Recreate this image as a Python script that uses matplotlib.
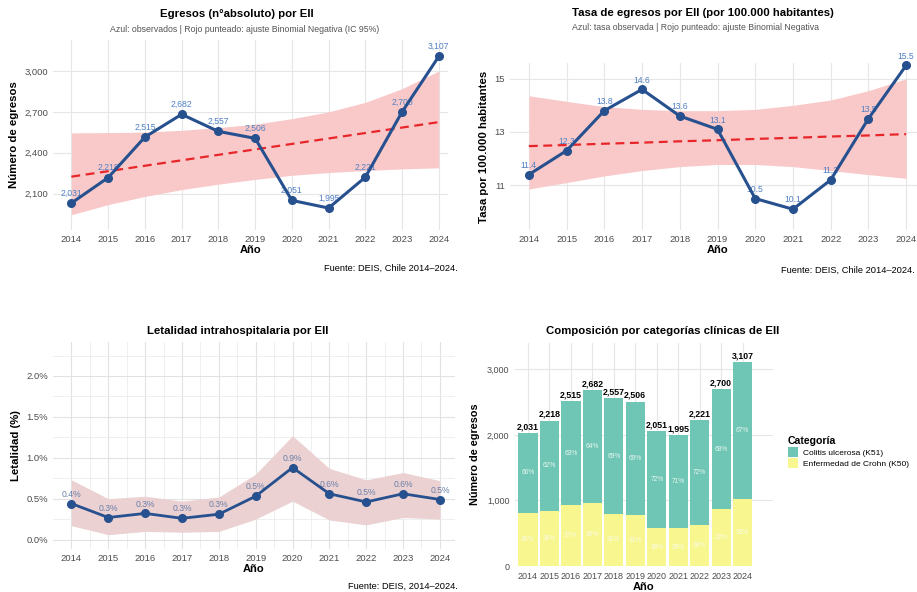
import matplotlib
matplotlib.use("Agg")
import matplotlib.pyplot as plt
from matplotlib.patches import Patch
from matplotlib.ticker import FixedLocator, FuncFormatter

plt.rcParams['font.family'] = ['Liberation Sans', 'DejaVu Sans']

# --- datos ---
years = [2014, 2015, 2016, 2017, 2018, 2019, 2020, 2021, 2022, 2023, 2024]
egresos = [2031, 2218, 2515, 2682, 2557, 2506, 2051, 1995, 2221, 2700, 3107]
egresos_fit = [2225, 2265, 2305, 2345, 2385, 2425, 2465, 2505, 2545, 2585, 2625]
egresos_lo = [1946, 2020, 2080, 2130, 2170, 2205, 2235, 2255, 2270, 2282, 2290]
egresos_hi = [2546, 2548, 2552, 2565, 2585, 2610, 2650, 2700, 2770, 2870, 3000]

tasa = [11.4, 12.3, 13.8, 14.6, 13.6, 13.1, 10.5, 10.1, 11.2, 13.5, 15.5]
tasa_fit = [12.47, 12.51, 12.56, 12.60, 12.65, 12.69, 12.74, 12.78, 12.83, 12.87, 12.92]
tasa_lo = [10.86, 11.10, 11.35, 11.55, 11.70, 11.78, 11.78, 11.70, 11.55, 11.40, 11.26]
tasa_hi = [14.36, 14.15, 13.95, 13.85, 13.80, 13.80, 13.85, 14.00, 14.20, 14.55, 15.00]

letalidad = [0.44, 0.27, 0.32, 0.26, 0.31, 0.53, 0.88, 0.56, 0.46, 0.56, 0.49]
letal_lo = [0.17, 0.06, 0.10, 0.09, 0.10, 0.25, 0.47, 0.24, 0.18, 0.27, 0.25]
letal_hi = [0.73, 0.50, 0.53, 0.47, 0.52, 0.80, 1.27, 0.87, 0.73, 0.82, 0.72]

crohn = [812, 843, 930, 965, 793, 777, 574, 579, 622, 864, 1025]
colitis = [1219, 1375, 1585, 1717, 1764, 1729, 1477, 1416, 1599, 1836, 2082]
categorias = ['Colitis ulcerosa (K51)', 'Enfermedad de Crohn (K50)']

W, H = 917, 592
LINE = '#27508f'
LABEL_BLUE = '#4f7fc4'
GRID = '#e6e6e6'
TEAL = '#6fc6b4'
YELLOW = '#f8f68e'


def fx(px):
    return px / W


def fy(py):
    return 1 - py / H


def panel(left, top, right, bottom):
    ax = fig.add_axes([fx(left), fy(bottom), fx(right) - fx(left), (bottom - top) / H])
    for s in ax.spines.values():
        s.set_visible(False)
    ax.tick_params(length=0, labelsize=6.8, labelcolor='#4d4d4d', pad=3.5)
    ax.set_axisbelow(True)
    return ax


fig = plt.figure(figsize=(W / 100, H / 100), dpi=100)

# === Panel 1: egresos absolutos ===
ax1 = panel(53, 40, 448, 230)
ax1.fill_between(years, egresos_lo, egresos_hi, color='#f9c9c9', lw=0, zorder=1)
ax1.plot(years, egresos_fit, color='#e8262a', lw=1.6, dashes=(4, 2.5), zorder=2)
for x, v in zip(years, egresos):
    ax1.text(x, v + 40, f'{v:,}', color=LABEL_BLUE, fontsize=6.2, ha='center', va='bottom',
             zorder=3, clip_on=False)
ax1.plot(years, egresos, color=LINE, lw=2.2, marker='o', ms=5.5, zorder=4, clip_on=False)
ax1.set_xlim(2013.5, 2024.25)
ax1.set_ylim(1834, 3227)
ax1.set_xticks(years)
ax1.set_yticks([2100, 2400, 2700, 3000])
ax1.yaxis.set_major_formatter(FuncFormatter(lambda v, p: f'{int(v):,}'))
ax1.grid(True, color=GRID, lw=0.8)
ax1.set_ylabel('Número de egresos', fontsize=8.2, fontweight='bold', labelpad=4)
ax1.set_xlabel('Año', fontsize=8, fontweight='bold', labelpad=1)
fig.text(fx(237), fy(14), 'Egresos (n°absoluto) por EII', fontsize=8.2, fontweight='bold',
         ha='center', va='center')
fig.text(fx(245), fy(29), 'Azul: observados | Rojo punteado: ajuste Binomial Negativa (IC 95%)',
         fontsize=6.3, color='#555555', ha='center', va='center')
fig.text(fx(458), fy(268), 'Fuente: DEIS, Chile 2014–2024.', fontsize=6.7, ha='right', va='center')

# === Panel 2: tasa por 100.000 ===
ax2 = panel(510, 63, 925, 230)
ax2.fill_between(years, tasa_lo, tasa_hi, color='#f9c9c9', lw=0, zorder=1)
ax2.plot(years, tasa_fit, color='#e8262a', lw=1.6, dashes=(4, 2.5), zorder=2)
for x, v in zip(years, tasa):
    ax2.text(x, v + 0.18, f'{v:.1f}', color=LABEL_BLUE, fontsize=6.2, ha='center', va='bottom',
             zorder=3, clip_on=False)
ax2.plot(years, tasa, color=LINE, lw=2.2, marker='o', ms=5.5, zorder=4, clip_on=False)
ax2.set_xlim(2013.5, 2024.5)
ax2.set_ylim(9.32, 15.59)
ax2.set_xticks(years)
ax2.set_yticks([11, 13, 15])
ax2.grid(True, color=GRID, lw=0.8)
ax2.set_ylabel('Tasa por 100.000 habitantes', fontsize=8.2, fontweight='bold', labelpad=4)
ax2.set_xlabel('Año', fontsize=8, fontweight='bold', labelpad=1)
fig.text(fx(703), fy(13), 'Tasa de egresos por EII (por 100.000 habitantes)', fontsize=8.2,
         fontweight='bold', ha='center', va='center')
fig.text(fx(695), fy(27), 'Azul: tasa observada | Rojo punteado: ajuste Binomial Negativa',
         fontsize=6.3, color='#555555', ha='center', va='center')
fig.text(fx(915), fy(270), 'Fuente: DEIS, Chile 2014–2024.', fontsize=6.7, ha='right', va='center')

# === Panel 3: letalidad ===
ax3 = panel(53, 342, 455, 549)
ax3.fill_between(years, letal_lo, letal_hi, color='#ebd1d1', lw=0, zorder=1)
for x, v in zip(years, letalidad):
    ax3.text(x, v + 0.06, f'{v:.1f}%', color='#6b80aa', fontsize=6.2, ha='center', va='bottom', zorder=3)
ax3.plot(years, letalidad, color=LINE, lw=2.0, marker='o', ms=5.5, zorder=4)
ax3.set_xlim(2013.5, 2024.41)
ax3.set_ylim(-0.115, 2.415)
ax3.set_xticks(years)
ax3.xaxis.set_minor_locator(FixedLocator([y + 0.5 for y in years[:-1]]))
ax3.set_yticks([0.0, 0.5, 1.0, 1.5, 2.0])
ax3.yaxis.set_minor_locator(FixedLocator([0.25, 0.75, 1.25, 1.75, 2.25]))
ax3.yaxis.set_major_formatter(FuncFormatter(lambda v, p: f'{v:.1f}%'))
ax3.tick_params(which='minor', length=0)
ax3.grid(True, which='major', color='#e2e2e2', lw=0.8)
ax3.grid(True, which='minor', color='#ececec', lw=0.6)
ax3.set_ylabel('Letalidad (%)', fontsize=8.2, fontweight='bold', labelpad=4)
ax3.set_xlabel('Año', fontsize=8, fontweight='bold', labelpad=1)
fig.text(fx(238), fy(331), 'Letalidad intrahospitalaria por EII', fontsize=8.2, fontweight='bold',
         ha='center', va='center')
fig.text(fx(458), fy(586), 'Fuente: DEIS, 2014–2024.', fontsize=6.7, ha='right', va='center')

# === Panel 4: composición ===
ax4 = panel(515, 343, 773, 566)
totales = [c + k for c, k in zip(crohn, colitis)]
ax4.bar(years, crohn, width=0.9, color=YELLOW, zorder=2)
ax4.bar(years, colitis, bottom=crohn, width=0.9, color=TEAL, zorder=2)
for x, k, c, t in zip(years, crohn, colitis, totales):
    ax4.text(x, k / 2, f'{round(100 * k / t)}%', color='#fbfbe6', fontsize=4.8, ha='center', va='center', zorder=3)
    ax4.text(x, k + c / 2, f'{round(100 * c / t)}%', color='#e8f6f2', fontsize=4.8, ha='center', va='center', zorder=3)
    ax4.text(x, t + 25, f'{t:,}', color='black', fontsize=6.3, fontweight='bold', ha='center', va='bottom', zorder=3)
ax4.set_xlim(2013.4, 2025.41)
ax4.set_ylim(0, 3400)
ax4.set_xticks(years)
ax4.set_yticks([0, 1000, 2000, 3000])
ax4.yaxis.set_major_formatter(FuncFormatter(lambda v, p: f'{int(v):,}'))
ax4.tick_params(labelsize=6.5, pad=4)
ax4.grid(True, color=GRID, lw=0.8)
ax4.set_ylabel('Número de egresos', fontsize=7.8, fontweight='bold', labelpad=5)
ax4.set_xlabel('Año', fontsize=8, fontweight='bold', labelpad=1)
fig.text(fx(663), fy(331), 'Composición por categorías clínicas de EII', fontsize=8.2,
         fontweight='bold', ha='center', va='center')
handles = [Patch(facecolor=TEAL, edgecolor='none'), Patch(facecolor=YELLOW, edgecolor='none')]
leg = fig.legend(handles, categorias, title='Categoría', loc='upper left',
                 bbox_to_anchor=(fx(780), fy(428)), frameon=False, fontsize=6.0,
                 title_fontproperties={'weight': 'bold', 'size': 7.6},
                 handlelength=1.3, handleheight=1.4, handletextpad=0.6, labelspacing=0.2)
leg._legend_box.align = 'left'

fig.savefig('out.png', dpi=100, facecolor='white')
